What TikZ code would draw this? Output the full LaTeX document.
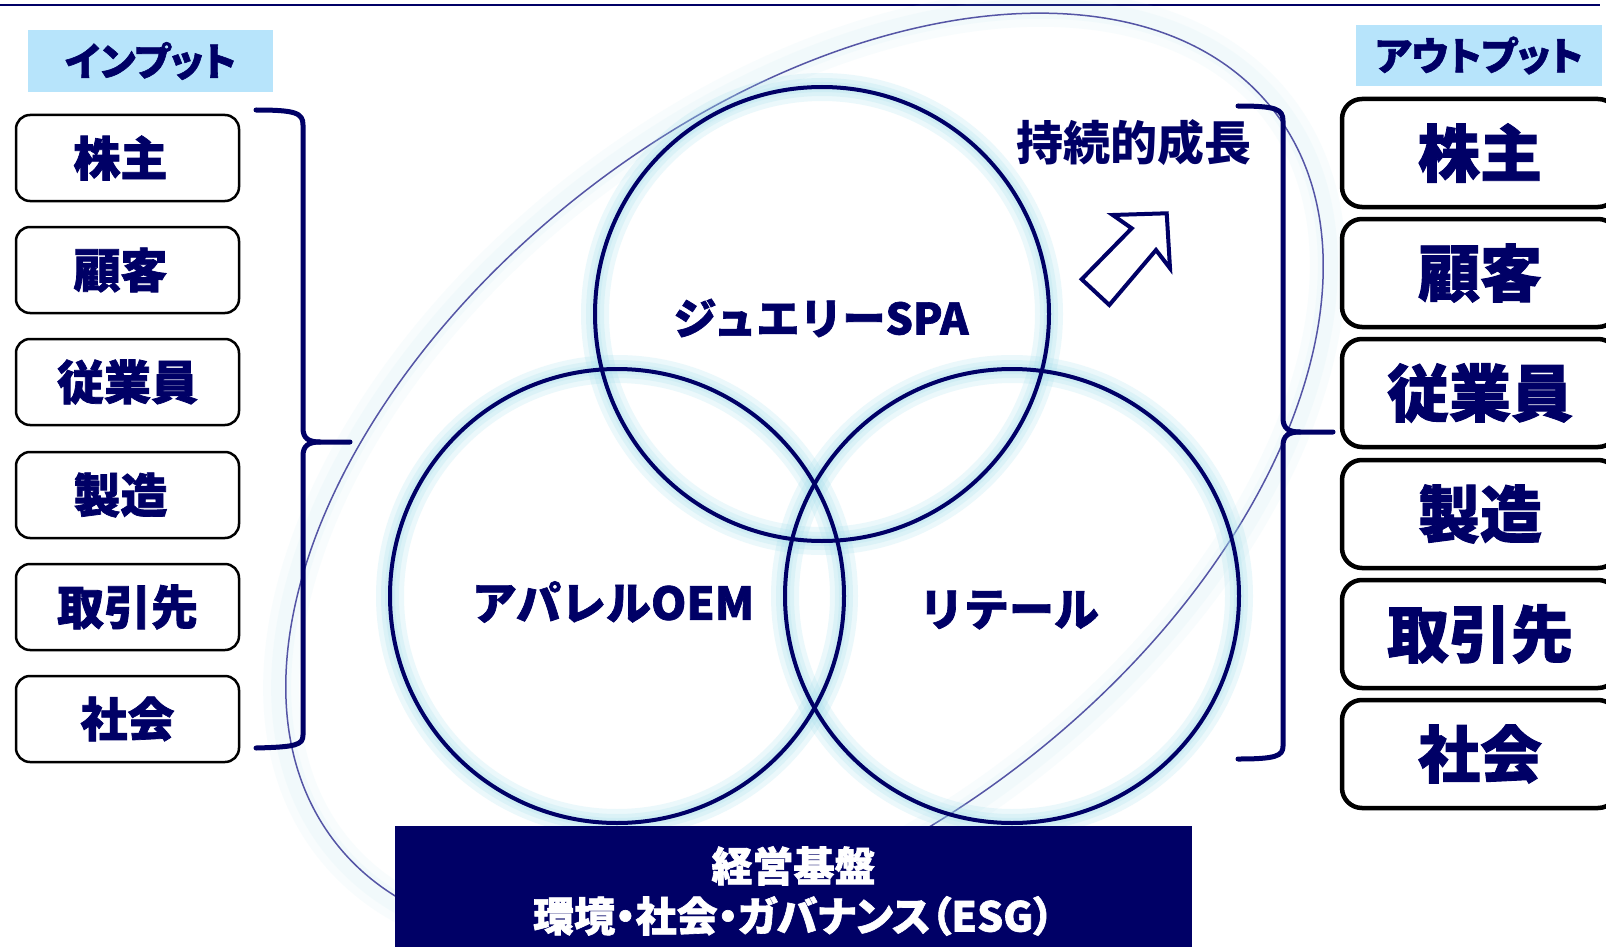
\documentclass[tikz,border=0pt]{standalone}
\usepackage{fontspec}
\setmainfont{Noto Sans CJK JP}
\newfontfamily\hv{Noto Sans CJK JP}[BoldFeatures={FakeBold=1.5}]
\definecolor{navy}{HTML}{000066}
\definecolor{hdr}{HTML}{B7E4FB}
\definecolor{ellc}{HTML}{5555A5}
\definecolor{glowc}{HTML}{9FDDEB}
\newcommand{\dn}[2][-4pt]{\raisebox{#1}{#2}}
\begin{document}
\begin{tikzpicture}[x=1pt,y=-1pt,
  fs/.style={font=\fontsize{#1}{#1}\selectfont\hv\bfseries},
  inbox/.style={draw=black, line width=2.5pt, rounded corners=14pt, minimum width=223pt, minimum height=86pt, inner sep=0pt, text=navy, fs=47},
  outbox/.style={draw=black, line width=4.5pt, rounded corners=20pt, minimum width=276pt, minimum height=108pt, inner sep=0pt, text=navy, fs=62},
  hdrbox/.style={fill=hdr, minimum width=245pt, minimum height=62pt, inner sep=0pt, text=navy, fs=39},
  circlab/.style={text=navy, inner sep=0pt},
  brace/.style={draw=navy, line width=5pt, line cap=round, line join=round},
  ring/.style={draw=navy, line width=4pt},
  glowring/.style={draw=glowc, line width=#1, opacity=0.2},
]
\useasboundingbox (0,0) rectangle (1606,947);
\fill[white] (0,0) rectangle (1606,947);

% top rule
\draw[navy, line width=2pt] (0,5.5) -- (1600,5.5);

% ellipse glow and line
\foreach \w in {36,20}{
  \draw[glowring=\w pt, opacity=0.07, rotate around={38:(804.5,476.5)}] (804.5,476.5) ellipse [x radius=600, y radius=364];
}
\draw[ellc, line width=1.5pt, rotate around={38:(804.5,476.5)}] (804.5,476.5) ellipse [x radius=595, y radius=360];

% circle glows
\foreach \c in {(822,314),(617,596),(1012,596)}{
  \foreach \w in {28,18,10}{
    \draw[glowring=\w pt] \c circle [radius=227];
  }
}
% circles
\draw[ring] (822,314) circle [radius=227];
\draw[ring] (617,596) circle [radius=227];
\draw[ring] (1012,596) circle [radius=227];

% circle labels
\node[circlab, fs=43] (spa) at (821,318) {ジュエリーSPA};
\node[circlab, fs=45] (oem) at (613,602) {アパレルOEM};
\node[circlab, fs=45] (ret) at (1009,610) {リテール};

% growth label and arrow
\node[circlab, font=\fontsize{47}{47}\selectfont\bfseries] (grow) at (1134,143) {持続的成長};
\draw[navy, line width=4pt, fill=white, line join=miter]
  (1081.7,279.3) -- (1131.7,228.3) -- (1112.7,215) -- (1166.7,213.3)
  -- (1170,268.3) -- (1156,250) -- (1109.3,305) -- cycle;

% bottom foundation box
\node[fill=navy, minimum width=797pt, minimum height=130pt, inner sep=0pt, text=white, align=center,
  font=\fontsize{41}{50}\selectfont\hv\bfseries] (base) at (793.5,891)
  {経営基盤\\{\addfontfeature{RawFeature=+palt}環境・社会・ガバナンス（ESG）}};

% headers
\node[hdrbox] (inh) at (150.5,61) {\dn[-6pt]{\addfontfeature{RawFeature=+palt}インプット}};
\node[hdrbox, minimum width=246pt, minimum height=61pt] (outh) at (1479,55.5) {\dn[-6pt]{\addfontfeature{RawFeature=+palt}アウトプット}};

% input boxes
\node[inbox] (i1) at (127.5,158) {\dn[-6pt]{株主}\kern14pt};
\node[inbox] (i2) at (127.5,270) {\dn[-6pt]{顧客}\kern14pt};
\node[inbox] (i3) at (127.5,382) {\dn[-6pt]{従業員}};
\node[inbox] (i4) at (127.5,495) {\dn[-6pt]{製造}\kern14pt};
\node[inbox] (i5) at (127.5,607) {\dn[-6pt]{取引先}};
\node[inbox] (i6) at (127.5,719) {\dn[-6pt]{社会}};

% output boxes
\node[outbox] (o1) at (1480,153) {\dn[-9pt]{株主}};
\node[outbox] (o2) at (1480,273) {\dn[-9pt]{顧客}};
\node[outbox] (o3) at (1480,393) {\dn[-9pt]{従業員}};
\node[outbox] (o4) at (1480,514) {\dn[-9pt]{製造}};
\node[outbox] (o5) at (1480,634) {\dn[-9pt]{取引先}};
\node[outbox] (o6) at (1480,754) {\dn[-9pt]{社会}};

% left brace
\draw[brace] (256,110) .. controls (296,110) and (303,113) .. (303,125) -- (303,428)
  .. controls (303,438) and (308,442) .. (320,442) -- (350,442);
\draw[brace] (320,442) .. controls (308,442) and (303,446) .. (303,456) -- (303,735)
  .. controls (303,745) and (296,747) .. (256,748);
% right brace
\draw[brace] (1238,106) .. controls (1276,106) and (1283,109) .. (1283,121) -- (1283,418)
  .. controls (1283,428) and (1288,432) .. (1300,432) -- (1333,432);
\draw[brace] (1300,432) .. controls (1288,432) and (1283,436) .. (1283,446) -- (1283,746)
  .. controls (1283,756) and (1276,759) .. (1238,759);
\end{tikzpicture}
\end{document}
